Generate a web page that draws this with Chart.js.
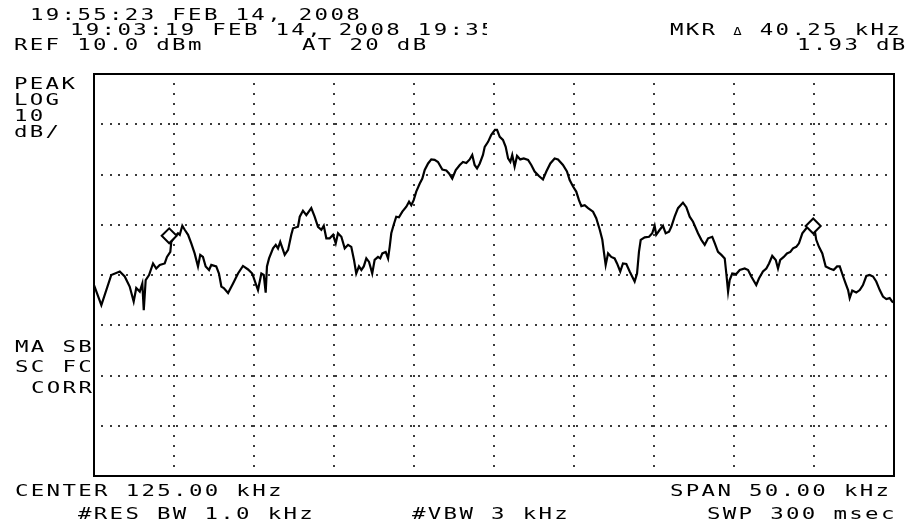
<!DOCTYPE html>
<html>
<head>
<meta charset="utf-8">
<script src="https://cdn.jsdelivr.net/npm/chart.js@4.4.0/dist/chart.umd.min.js"></script>
<style>
  html, body { margin:0; padding:0; background:#fff; }
  #wrap { position:absolute; left:0; top:0; width:911px; height:526px; overflow:hidden; }
  canvas { position:absolute; left:0; top:0; }
  .t { position:absolute; font-family:'DejaVu Sans Mono', monospace; font-size:16px; line-height:16px;
       letter-spacing:1.66px; transform:scaleX(1.4); transform-origin:0 0; white-space:pre; color:#000; }
  .d { font-size:10px; }
</style>
</head>
<body>
<div id="wrap">
  <canvas id="c" width="911" height="526"></canvas>
  <div class="t" style="left:30px;top:7px;">19:55:23 FEB 14, 2008</div>
  <div style="position:absolute;left:0;top:0;width:487px;height:60px;overflow:hidden;">
    <div class="t" style="left:70px;top:22px;">19:03:19 FEB 14, 2008 19:35</div>
  </div>
  <div class="t" style="left:14px;top:37px;">REF 10.0 dBm</div>
  <div class="t" style="left:302px;top:37px;">AT 20 dB</div>
  <div class="t" style="left:670px;top:22px;">MKR <span class="d">Δ</span> 40.25 kHz</div>
  <div class="t" style="left:797px;top:37px;">1.93 dB</div>
  <div class="t" style="left:14px;top:76px;">PEAK</div>
  <div class="t" style="left:14px;top:92px;">LOG</div>
  <div class="t" style="left:14px;top:108px;">10</div>
  <div class="t" style="left:14px;top:124px;">dB/</div>
  <div class="t" style="left:15px;top:339px;">MA SB</div>
  <div class="t" style="left:15px;top:359px;">SC FC</div>
  <div class="t" style="left:31px;top:380px;">CORR</div>
  <div class="t" style="left:15px;top:483px;">CENTER 125.00 kHz</div>
  <div class="t" style="left:670px;top:483px;">SPAN 50.00 kHz</div>
  <div class="t" style="left:78px;top:506px;">#RES BW 1.0 kHz</div>
  <div class="t" style="left:412px;top:506px;">#VBW 3 kHz</div>
  <div class="t" style="left:707px;top:506px;">SWP 300 msec</div>
</div>
<script>
// ---- data ----
const freqKHz = [100.0,100.46,101.08,101.61,101.92,102.23,102.48,102.64,102.86,103.02,
103.11,103.23,103.44,103.69,103.89,104.11,104.42,104.56,104.77,104.83,
105.04,105.25,105.36,105.52,105.67,105.88,106.08,106.29,106.5,106.64,
106.81,106.98,107.19,107.33,107.64,107.81,107.96,108.11,108.38,108.69,
109.0,109.31,109.63,109.89,110.14,110.25,110.46,110.61,110.73,110.81,
110.94,111.19,111.36,111.5,111.64,111.92,112.13,112.33,112.44,112.75,
112.86,113.06,113.27,113.58,113.79,114.0,114.21,114.36,114.52,114.73,
114.94,115.11,115.25,115.46,115.67,115.88,116.08,116.25,116.39,116.56,
116.71,116.86,117.02,117.19,117.27,117.39,117.54,117.75,117.89,118.02,
118.23,118.38,118.48,118.58,118.73,118.89,119.06,119.27,119.52,119.69,
119.83,119.98,120.14,120.36,120.52,120.67,120.88,121.08,121.29,121.5,
121.77,122.02,122.19,122.39,122.61,122.86,123.06,123.27,123.48,123.64,
123.79,123.94,124.11,124.31,124.42,124.63,124.83,125.06,125.19,125.36,
125.56,125.73,125.88,126.02,126.14,126.29,126.44,126.64,126.86,127.13,
127.33,127.54,127.81,128.06,128.27,128.52,128.79,129.0,129.31,129.56,
129.73,129.94,130.14,130.31,130.46,130.67,130.88,131.19,131.39,131.61,
131.77,131.88,131.98,132.13,132.33,132.54,132.69,132.89,133.06,133.27,
133.48,133.79,133.94,134.06,134.17,134.42,134.69,134.89,135.04,135.14,
135.36,135.56,135.73,135.94,136.08,136.29,136.5,136.81,137.02,137.23,
137.44,137.75,137.96,138.17,138.38,138.64,138.79,139.0,139.21,139.42,
139.52,139.63,139.73,139.89,140.14,140.36,140.67,140.88,141.08,141.39,
141.56,141.81,142.02,142.19,142.39,142.61,142.75,142.89,143.11,143.31,
143.52,143.69,143.89,144.06,144.27,144.52,144.73,144.94,145.06,145.14,
145.31,145.52,145.73,145.98,146.23,146.44,146.61,146.81,146.98,147.13,
147.23,147.39,147.64,147.86,148.06,148.27,148.48,148.69,148.89,149.11,
149.31,149.52,149.73,149.89,150.0];

const levelDbm = [-32.0,-36.0,-30.0,-29.3,-30.3,-32.3,-35.3,-32.6,-33.3,-31.7,
-37.0,-31.0,-30.0,-27.7,-28.7,-28.0,-27.7,-26.4,-25.4,-23.4,
-22.4,-21.7,-22.0,-20.2,-21.0,-22.0,-23.7,-25.7,-28.3,-26.0,
-26.4,-28.3,-29.0,-28.0,-28.3,-29.7,-32.3,-32.6,-33.6,-31.7,
-29.7,-28.2,-28.9,-29.7,-32.0,-33.0,-29.7,-30.0,-33.5,-28.3,
-26.7,-24.7,-24.0,-24.7,-23.4,-26.0,-25.0,-22.0,-20.7,-20.4,
-18.4,-17.2,-18.1,-16.7,-18.4,-20.4,-21.0,-20.2,-22.7,-22.7,
-22.0,-23.7,-21.7,-22.4,-24.7,-24.0,-24.4,-27.0,-29.7,-28.3,
-29.0,-28.3,-26.7,-27.4,-28.3,-29.7,-27.0,-26.4,-26.7,-25.7,
-25.4,-26.7,-24.4,-21.7,-20.0,-18.4,-18.5,-17.4,-16.4,-15.4,
-16.1,-15.1,-13.4,-11.8,-10.8,-9.1,-7.8,-7.0,-7.1,-7.5,
-9.0,-9.2,-9.8,-10.8,-9.1,-8.1,-7.5,-7.7,-7.0,-6.1,
-8.1,-8.8,-7.8,-6.1,-4.5,-3.5,-2.1,-1.1,-1.1,-2.5,
-3.1,-4.5,-6.8,-7.5,-6.1,-8.4,-6.3,-7.0,-6.8,-7.1,
-8.1,-9.4,-10.3,-11.0,-9.4,-7.8,-6.8,-7.0,-8.1,-9.4,
-11.1,-12.4,-13.4,-15.1,-16.3,-16.1,-16.7,-17.4,-18.7,-21.0,
-23.0,-25.7,-28.0,-25.7,-26.4,-26.7,-27.7,-29.3,-27.7,-27.8,
-29.3,-31.3,-29.7,-25.4,-23.0,-22.5,-22.4,-21.7,-20.2,-22.0,
-21.0,-20.2,-21.7,-21.4,-20.4,-18.4,-16.7,-15.6,-16.5,-18.4,
-19.4,-21.7,-23.0,-24.0,-22.7,-22.4,-23.6,-25.4,-26.0,-26.7,
-29.7,-33.3,-31.0,-29.7,-29.8,-29.0,-28.7,-29.0,-30.3,-32.0,
-30.7,-29.3,-28.7,-27.7,-26.2,-27.0,-28.7,-27.0,-26.4,-25.7,
-25.4,-24.7,-24.4,-23.7,-21.7,-20.7,-20.2,-20.2,-21.4,-23.0,
-24.4,-25.7,-28.3,-28.7,-29.0,-28.3,-28.3,-30.2,-31.7,-33.0,
-34.6,-33.1,-33.5,-33.0,-32.0,-30.2,-30.0,-30.3,-31.3,-33.0,
-34.3,-34.8,-34.6,-35.3,-35.5];

const markerFreq = [104.70, 144.95];
const markerLevel = [-22.2, -20.25];

const xGridTicks = [105,110,115,120,125,130,135,140,145];
const yGridTicks = [0,-10,-20,-30,-40,-50,-60];

const startKHz = 100, stopKHz = 150;
const refDbm = 10, bottomDbm = -70;

// ---- chart ----
const tracePts = freqKHz.map((f, i) => ({x: f, y: levelDbm[i]}));
const markerPts = markerFreq.map((f, i) => ({x: f, y: markerLevel[i]}));

const frameGrid = {
  id: 'frameGrid',
  beforeDatasetsDraw(chart) {
    const ctx = chart.ctx, xs = chart.scales.x, ys = chart.scales.y;
    const L = xs.getPixelForValue(startKHz), R = xs.getPixelForValue(stopKHz);
    const T = ys.getPixelForValue(refDbm), B = ys.getPixelForValue(bottomDbm);
    ctx.save();
    ctx.fillStyle = '#3a3a3a';
    const hStep = (R - L) / 96;
    yGridTicks.forEach(v => {
      const y = Math.round(ys.getPixelForValue(v));
      for (let k = 1; k < 96; k++) {
        const x = Math.round(L + k * hStep);
        ctx.fillRect(x - 1, y - 1, 2, 2);
      }
    });
    const vStep = (B - T) / 40;
    xGridTicks.forEach(v => {
      const x = Math.round(xs.getPixelForValue(v));
      for (let k = 1; k < 40; k++) {
        const y = Math.round(T + k * vStep);
        ctx.fillRect(x - 1, y - 1, 2, 2);
      }
    });
    ctx.strokeStyle = '#000';
    ctx.lineWidth = 2;
    ctx.strokeRect(L, T, R - L, B - T);
    ctx.restore();
  }
};

new Chart(document.getElementById('c'), {
  type: 'line',
  data: {
    datasets: [
      { data: tracePts, borderColor: '#000', borderWidth: 2.2, pointRadius: 0, tension: 0, fill: false, order: 2 },
      { type: 'scatter', data: markerPts, pointStyle: 'rectRot', pointRadius: 7.5, borderColor: '#000',
        backgroundColor: '#fff', borderWidth: 2, order: 1 }
    ]
  },
  options: {
    responsive: false,
    animation: false,
    devicePixelRatio: 1,
    layout: { padding: { left: 94, right: 17, top: 74, bottom: 50 } },
    plugins: { legend: { display: false }, tooltip: { enabled: false } },
    scales: {
      x: { type: 'linear', min: startKHz, max: stopKHz, display: false },
      y: { type: 'linear', min: bottomDbm, max: refDbm, display: false }
    }
  },
  plugins: [frameGrid]
});
</script>
</body>
</html>
